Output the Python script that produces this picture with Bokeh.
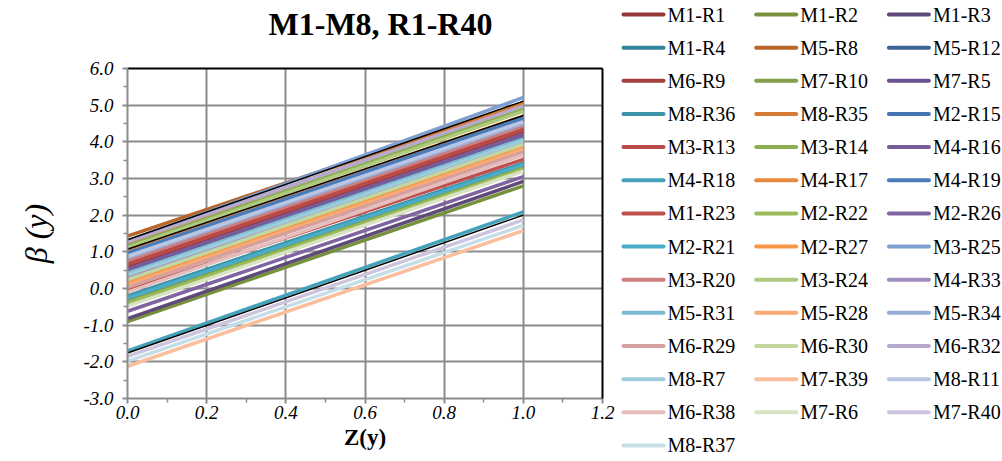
from bokeh.plotting import figure
from bokeh.models import Range1d, LinearAxis, FixedTicker, NumeralTickFormatter
from bokeh.layouts import row, column
from bokeh.core.properties import value
from bokeh.embed import file_html
from bokeh.resources import INLINE

# ---------------- data ----------------
TITLE = "M1-M8, R1-R40"
X_LABEL = "Z(y)"
Y_LABEL = "β (y)"

z = [0.0, 1.0]

x_ticks = [0.0, 0.2, 0.4, 0.6, 0.8, 1.0, 1.2]
x_minor_ticks = [0.1, 0.3, 0.5, 0.7, 0.9, 1.1]
y_ticks = [-3.0, -2.0, -1.0, 0.0, 1.0, 2.0, 3.0, 4.0, 5.0, 6.0]
y_minor_ticks = [-2.5, -1.5, -0.5, 0.5, 1.5, 2.5, 3.5, 4.5, 5.5]

names = ["M1-R1", "M1-R2", "M1-R3", "M1-R4", "M5-R8", "M5-R12",
         "M6-R9", "M7-R10", "M7-R5", "M8-R36", "M8-R35", "M2-R15",
         "M3-R13", "M3-R14", "M4-R16", "M4-R18", "M4-R17", "M4-R19",
         "M1-R23", "M2-R22", "M2-R26", "M2-R21", "M2-R27", "M3-R25",
         "M3-R20", "M3-R24", "M4-R33", "M5-R31", "M5-R28", "M5-R34",
         "M6-R29", "M6-R30", "M6-R32", "M8-R7", "M7-R39", "M8-R11",
         "M6-R38", "M7-R6", "M7-R40", "M8-R37"]

# beta(y) at Z(y)=0
beta_z0 = [0.60, -0.90, -0.82, -0.30, 1.43, 0.93,
           0.70, -0.36, 0.48, -0.20, 1.22, 1.00,
           0.65, 1.16, 0.53, -1.70, 1.03, 0.97,
           -0.05, -0.40, -0.62, -0.26, 0.18, 1.30,
           0.76, 1.11, 0.31, 0.42, 0.10, 0.84,
           0.03, 0.24, 1.27, 0.37, -2.12, 0.88,
           -0.10, -0.48, -1.85, -1.98]

# beta(y) at Z(y)=1
beta_z1 = [4.27, 2.80, 2.92, 3.35, 5.06, 4.60,
           4.37, 3.30, 4.14, 3.42, 5.04, 4.68,
           4.32, 4.90, 4.20, 2.09, 4.70, 4.65,
           3.52, 3.26, 3.05, 3.38, 3.88, 5.21,
           4.43, 4.83, 3.98, 4.08, 3.80, 4.50,
           3.72, 3.93, 4.98, 4.03, 1.58, 4.55,
           3.64, 3.20, 1.87, 1.72]

colors = ["#943634", "#76923C", "#5F497A", "#31849B", "#B9652A", "#3B6398",
          "#A5403D", "#83A04A", "#6B5290", "#3A93AB", "#D67A34", "#4572B0",
          "#B94A47", "#8EAE52", "#785C9A", "#45A2BB", "#E8883D", "#4A7BBB",
          "#C0504D", "#9BBB59", "#8064A2", "#4BACC6", "#F79646", "#7F9FD0",
          "#CD7E7C", "#AFC97F", "#A08EBF", "#7CBCD3", "#F9AB73", "#97AED8",
          "#D6A09F", "#C2D69F", "#B6A9CD", "#9ECCDC", "#FABE9D", "#B9C7E4",
          "#E4BDBC", "#D7E3C3", "#CDC5DD", "#C4DDE7"]

# black trend lines (not in legend)
trend_z0 = [1.33, 1.07, -1.76]
trend_z1 = [5.11, 4.72, 2.00]

FONT = "Liberation Serif"
GRID = "#8c8c8c"

# frame placement (pixels)
FRAME_LEFT, FRAME_RIGHT = 127, 602

# ---------------- main plot ----------------
p = figure(width=618, height=395, x_range=Range1d(0, 1.2), y_range=Range1d(-3, 6),
           output_backend="svg", toolbar_location=None,
           min_border_left=FRAME_LEFT, min_border_right=618 - FRAME_RIGHT,
           min_border_top=10, min_border_bottom=55,
           outline_line_color=None, background_fill_color="white", border_fill_color="white")

for a, b, c in zip(beta_z0, beta_z1, colors):
    p.line(x=z, y=[a, b], line_color=c, line_width=3.5)
for a, b in zip(trend_z0, trend_z1):
    p.line(x=z, y=[a, b], line_color="black", line_width=1.5)

xax = p.xaxis[0]
yax = p.yaxis[0]
xax.ticker = FixedTicker(ticks=x_ticks, minor_ticks=x_minor_ticks)
yax.ticker = FixedTicker(ticks=y_ticks, minor_ticks=y_minor_ticks)
for ax in (xax, yax):
    ax.formatter = NumeralTickFormatter(format="0.0")
    ax.axis_line_color = GRID
    ax.axis_line_width = 2
    ax.major_tick_line_color = GRID
    ax.major_tick_line_width = 2
    ax.major_tick_out = 5
    ax.major_tick_in = 0
    ax.minor_tick_line_color = GRID
    ax.minor_tick_line_width = 1.5
    ax.minor_tick_out = 4
    ax.minor_tick_in = 0
    ax.major_label_text_font = FONT
    ax.major_label_text_font_style = "italic"
    ax.major_label_text_font_size = "19px"
    ax.major_label_text_color = "black"
    ax.axis_label_text_font = FONT
    ax.axis_label_text_color = "black"

xax.axis_label = X_LABEL
xax.axis_label_text_font_style = "bold"
xax.axis_label_text_font_size = "23px"
xax.axis_label_standoff = 3
xax.major_label_standoff = 2

yax.axis_label = Y_LABEL
yax.axis_label_text_font_style = "italic"
yax.axis_label_text_font_size = "32px"
yax.axis_label_standoff = 26
yax.major_label_standoff = 9

p.xgrid.grid_line_color = GRID
p.xgrid.grid_line_width = 2
p.ygrid.grid_line_color = GRID
p.ygrid.grid_line_width = 2

for side in ("above", "right"):
    ax = LinearAxis(ticker=FixedTicker(ticks=[]), axis_line_color="black", axis_line_width=2,
                    major_tick_out=0, major_tick_in=0, minor_tick_out=0, minor_tick_in=0,
                    major_label_standoff=0)
    p.add_layout(ax, side)

# ---------------- title (its frame is aligned with the main plot's frame) ----------------
tf = figure(width=618, height=58, x_range=Range1d(FRAME_LEFT, FRAME_RIGHT), y_range=Range1d(58, 0),
            output_backend="svg", toolbar_location=None,
            x_axis_location=None, y_axis_location=None,
            min_border_left=FRAME_LEFT, min_border_right=618 - FRAME_RIGHT,
            min_border_top=0, min_border_bottom=0,
            outline_line_color=None)
tf.grid.visible = False
tf.text(x=[380], y=[23], text=[TITLE], text_font=value(FONT), text_font_style="bold",
        text_font_size="32px", text_align="center", text_baseline="middle",
        text_color="black")

# ---------------- legend ----------------
LW, LH = 384, 461
lf = figure(width=LW, height=LH, x_range=Range1d(0, LW), y_range=Range1d(LH, 0),
            output_backend="svg", toolbar_location=None,
            x_axis_location=None, y_axis_location=None, min_border=0,
            outline_line_color=None)
lf.grid.visible = False
ncols = 3
col_pitch, row_pitch = 132.7, 33.15
x_start, y_start = 5, 14
lx = [x_start + (i % ncols) * col_pitch for i in range(len(names))]
ly = [y_start + (i // ncols) * row_pitch for i in range(len(names))]
lf.segment(x0=lx, y0=ly, x1=[x + 40 for x in lx], y1=ly, line_color=colors,
           line_width=4, line_cap="round")
lf.text(x=[x + 44 for x in lx], y=ly, text=names, text_font=value(FONT),
        text_font_size="20px", text_align="left", text_baseline="middle",
        text_color="black")

layout = row(column(tf, p), lf)

open("out.html", "w").write(file_html(layout, INLINE))
